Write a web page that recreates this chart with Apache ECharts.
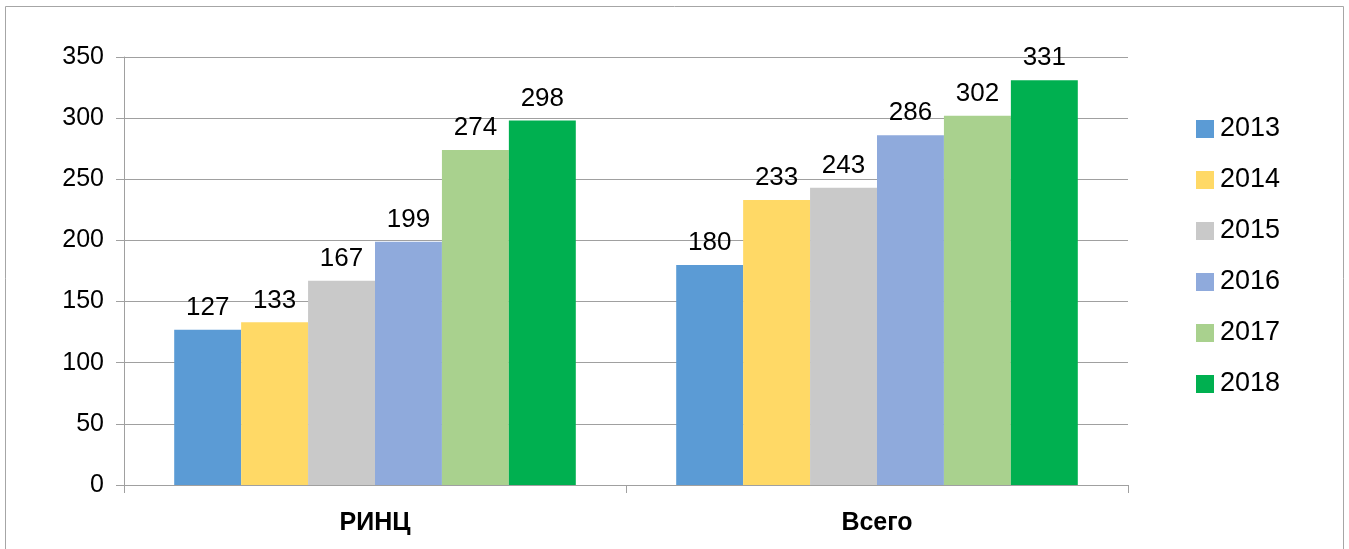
<!DOCTYPE html>
<html>
<head>
<meta charset="utf-8">
<script src="https://cdn.jsdelivr.net/npm/echarts@6/dist/echarts.min.js"></script>
<style>
  html, body { margin: 0; padding: 0; background: #fff; }
  #chart { width: 1349px; height: 549px; }
</style>
</head>
<body>
<div id="chart"></div>
<script>
const categories = ['РИНЦ', 'Всего']
const years = ['2013', '2014', '2015', '2016', '2017', '2018']
const colors = ['#5B9BD5', '#FFD966', '#C9C9C9', '#8FAADC', '#A9D18E', '#00B050']
const values2013 = [127, 180]
const values2014 = [133, 233]
const values2015 = [167, 243]
const values2016 = [199, 286]
const values2017 = [274, 302]
const values2018 = [298, 331]
const seriesValues = [values2013, values2014, values2015, values2016, values2017, values2018]

const font = '"Liberation Sans", "Noto Sans", sans-serif'

const myChart = echarts.init(document.getElementById('chart'))
const options = {
  animation: false,
  textStyle: { fontFamily: font },
  graphic: [
    {
      type: 'rect',
      shape: { x: 5.5, y: 6.5, width: 1338, height: 600 },
      style: { fill: 'none', stroke: '#a6a6a6', lineWidth: 1 },
      silent: true
    }
  ],
  legend: {
    orient: 'vertical',
    left: 1191,
    top: 109,
    itemWidth: 18,
    itemHeight: 18,
    itemGap: 21,
    icon: 'rect',
    data: years,
    textStyle: { fontSize: 27, color: '#000', lineHeight: 30, fontFamily: font, padding: [0, 0, 0, 1] }
  },
  grid: {
    top: 57,
    left: 124,
    right: 221,
    bottom: 64,
    containLabel: false
  },
  xAxis: {
    type: 'category',
    data: categories,
    axisLine: { lineStyle: { color: '#a0a0a0', width: 1 } },
    axisTick: { show: true, length: 8, lineStyle: { color: '#a0a0a0' } },
    axisLabel: { color: '#000', fontSize: 25, fontWeight: 'bold', margin: 26, fontFamily: font }
  },
  yAxis: {
    type: 'value',
    min: 0,
    max: 350,
    interval: 50,
    axisLine: { show: true, lineStyle: { color: '#a0a0a0', width: 1 } },
    axisTick: { show: true, length: 8, lineStyle: { color: '#a0a0a0' } },
    splitLine: { lineStyle: { color: '#a0a0a0', width: 1 } },
    axisLabel: { color: '#000', fontSize: 25, margin: 20, fontFamily: font }
  },
  series: years.map((y, i) => ({
    name: y,
    type: 'bar',
    data: seriesValues[i],
    barGap: '0%',
    barCategoryGap: '20%',
    itemStyle: { color: colors[i] },
    label: {
      show: true,
      position: 'top',
      distance: 9,
      color: '#000',
      fontSize: 26,
      fontFamily: font
    }
  }))
}
myChart.setOption(options)
</script>
</body>
</html>
